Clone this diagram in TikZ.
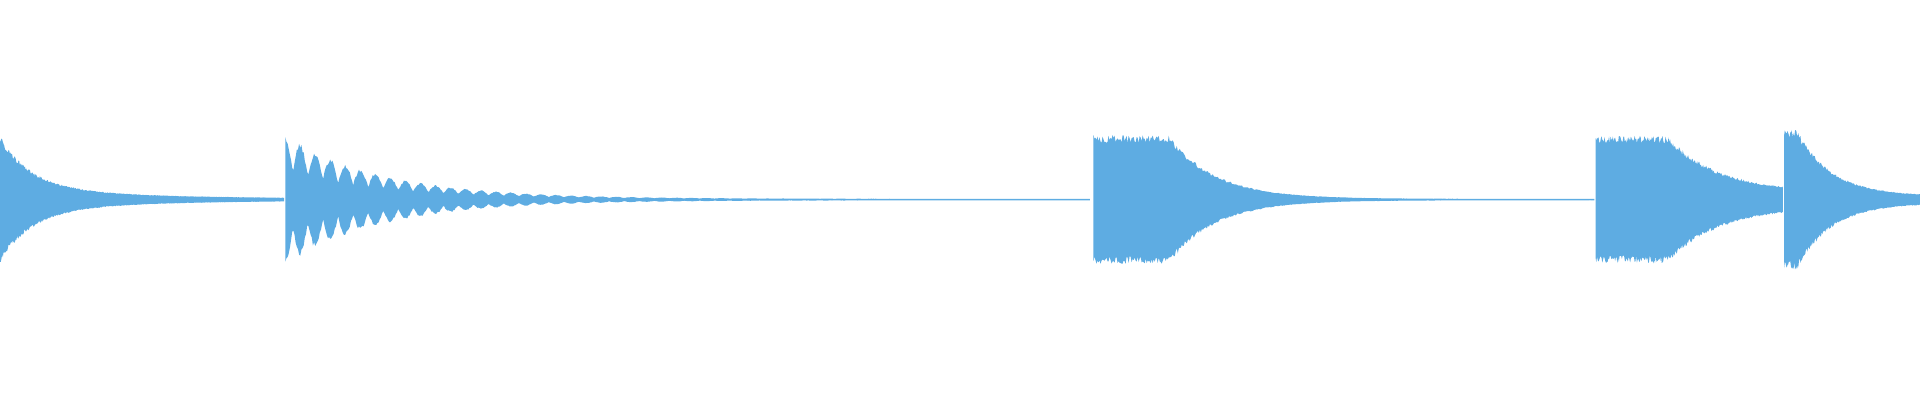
\documentclass[tikz,border=0pt]{standalone}
\definecolor{wavecol}{RGB}{94,172,226}
\tikzset{wave/.style={fill=wavecol,draw=none}}
\begin{document}
\begin{tikzpicture}[x=1pt,y=-1pt]
  \useasboundingbox (0,0) rectangle (1568,326.7);
  \pgfmathsetseed{7}
  % first tail
  \fill[wave] plot[domain=0:232,samples=400]
      (\x,{163-(42*exp(-\x/25)+10*exp(-\x/100)+0.6)*(0.88+0.12*rnd)})
    -- plot[domain=232:0,samples=400]
      (\x,{163+(42*exp(-\x/25)+10*exp(-\x/100)+0.6)*(0.88+0.12*rnd)});
  % beating note
  \fill[wave] plot[domain=233:890,samples=700]
      (\x,{163-(0.6+53*exp(-(\x-233)/80)*(0.45+0.55*abs(cos(deg((\x-233)*pi/12.3)))))*(0.88+0.12*rnd)})
    -- plot[domain=890:233,samples=700]
      (\x,{163+(0.6+53*exp(-(\x-233)/80)*(0.45+0.55*abs(cos(deg((\x-233)*pi/12.3)))))*(0.88+0.12*rnd)});
  % long note
  \fill[wave] plot[domain=893:1302,samples=500]
      (\x,{163-(0.6+52*min(1,exp(-(\x-955)/38)))*(0.88+0.12*rnd)})
    -- plot[domain=1302:893,samples=500]
      (\x,{163+(0.6+52*min(1,exp(-(\x-955)/38)))*(0.88+0.12*rnd)});
  % fourth note
  \fill[wave] plot[domain=1303:1456,samples=250]
      (\x,{163-(6+46*min(1,exp(-(\x-1362)/42)))*(0.88+0.12*rnd)})
    -- plot[domain=1456:1303,samples=250]
      (\x,{163+(6+46*min(1,exp(-(\x-1362)/42)))*(0.88+0.12*rnd)});
  % last note
  \fill[wave] plot[domain=1457:1568,samples=200]
      (\x,{163-(3+54*min(1,exp(-(\x-1468)/28)))*(0.88+0.12*rnd)})
    -- plot[domain=1568:1457,samples=200]
      (\x,{163+(3+54*min(1,exp(-(\x-1468)/28)))*(0.88+0.12*rnd)});
\end{tikzpicture}
\end{document}
